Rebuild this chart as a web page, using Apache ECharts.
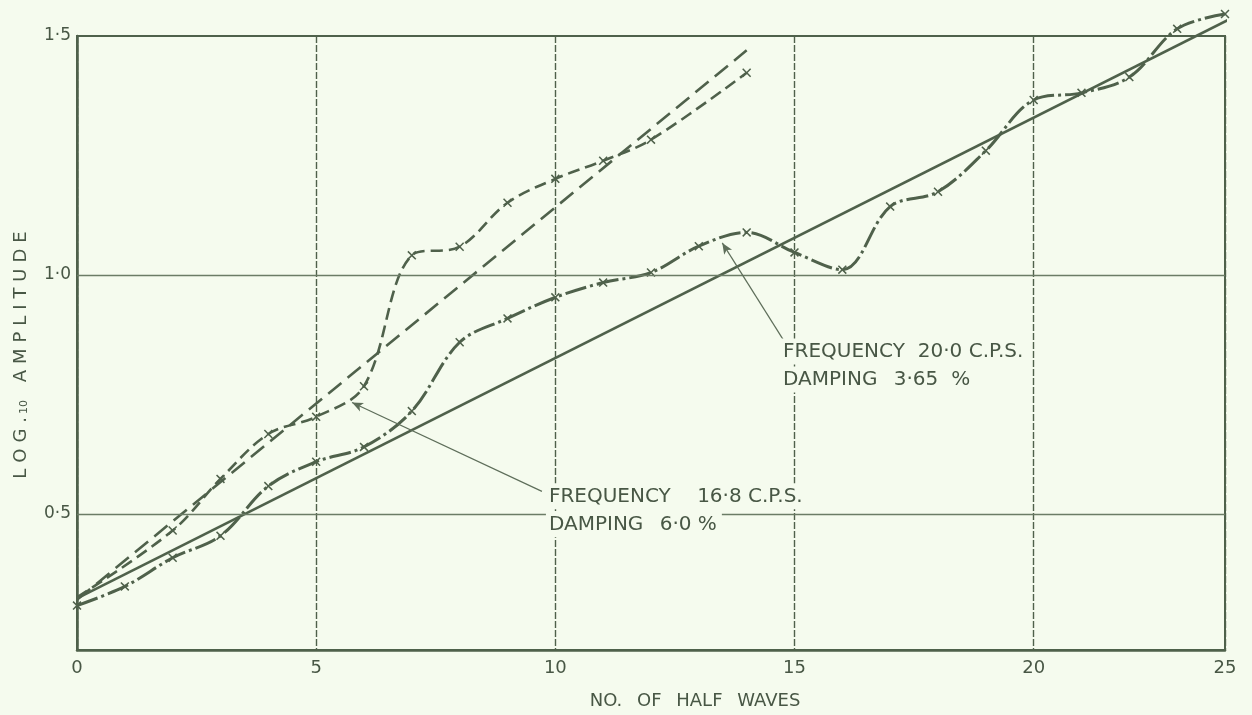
<!DOCTYPE html>
<html>
<head>
<meta charset="utf-8">
<script src="https://cdn.jsdelivr.net/npm/echarts@6/dist/echarts.min.js"></script>
<style>
html,body{margin:0;padding:0;background:#f5fbee;}
#chart{width:1252px;height:715px;}
</style>
</head>
<body>
<div id="chart"></div>
<script>
// ---- data ----
// 20.0 c.p.s. test (dash-dot curve with x markers)
const halfWaves200 = [0,1,2,3,4,5,6,7,8,9,10,11,12,13,14,15,16,17,18,19,20,21,22,23,24];
const logAmp200    = [0.308,0.348,0.408,0.454,0.558,0.609,0.640,0.715,0.859,0.909,0.953,0.984,1.005,1.060,1.089,1.047,1.011,1.143,1.174,1.260,1.366,1.381,1.414,1.515,1.546];
// 16.8 c.p.s. test (dashed curve with x markers)
const halfWaves168 = [0,2,3,4,5,6,7,8,9,10,11,12,14];
const logAmp168    = [0.325,0.465,0.573,0.667,0.703,0.767,1.041,1.059,1.151,1.201,1.239,1.283,1.423];
// straight fitted lines
const fit168X = [0,14];
const fit168Y = [0.32,1.47];
const fit200X = [0,24.35];
const fit200Y = [0.323,1.548];
// axes
const xTickLabels = ['0','5','10','15','20','25'];
const yTickValues = [0.5,1.0,1.5];
const yGridValues = [0.5,1.0];
// annotations (data-space anchors of leader lines)
const note168Lines = ['FREQUENCY\u2003 16·8 C.P.S.', 'DAMPING\u2002 6·0 %'];
const note200Lines = ['FREQUENCY\u2004 20·0 C.P.S.', 'DAMPING\u2002 3·65\u2004 %'];
const pointer168 = [[5.75,0.733],[9.72,0.547]];
const pointer200 = [[13.49,1.067],[14.76,0.865]];

const INK = '#4f614b';
const TEXT = '#485745';
const FONT = '"DejaVu Sans", "Noto Sans", sans-serif';
const XSYM = 'path://M0,1.2L1.2,0L5,3.8L8.8,0L10,1.2L6.2,5L10,8.8L8.8,10L5,6.2L1.2,10L0,8.8L3.8,5Z';

const zip = (xs, ys) => xs.map((x, i) => [x, ys[i]]);
const spaced = (s, sp) => s.split('').join(sp);

const chart = echarts.init(document.getElementById('chart'), null, {renderer: 'canvas'});

const option = {
  backgroundColor: '#f5fbee',
  animation: false,
  grid: {
    left: 77, right: 27, top: 36, bottom: 64,
    show: true, borderColor: INK, borderWidth: 2, backgroundColor: 'transparent'
  },
  xAxis: {
    type: 'value', min: 0, max: 24, interval: 5,
    name: 'NO.\u2002 OF\u2002 HALF\u2002 WAVES',
    nameLocation: 'middle', nameGap: 42,
    nameTextStyle: {color: TEXT, fontFamily: FONT, fontSize: 18, padding: [0, 0, 0, 88]},
    axisLine: {show: true, lineStyle: {color: INK, width: 2.5}},
    axisTick: {show: false},
    axisLabel: {
      color: TEXT, fontFamily: FONT, fontSize: 18, margin: 9,
      formatter: (v, i) => xTickLabels[i]
    },
    splitLine: {show: true, lineStyle: {color: INK, width: 1.4, type: [7, 2]}}
  },
  yAxis: {
    type: 'value', min: 0.215, max: 1.5,
    name: '{a|' + spaced('LOG.', '\u2004') + '}{s|10}{a|\u2002 ' + spaced('AMPLITUDE', '\u2004') + '}',
    nameLocation: 'middle', nameGap: 47,
    nameTextStyle: {
      color: TEXT, fontFamily: FONT, fontSize: 18, padding: [0, 24, 0, 0],
      rich: {
        a: {color: TEXT, fontFamily: FONT, fontSize: 18},
        s: {color: TEXT, fontFamily: FONT, fontSize: 11, verticalAlign: 'bottom', padding: [7, 3, 0, 3]}
      }
    },
    axisLine: {show: true, lineStyle: {color: INK, width: 2.5}},
    axisTick: {show: false},
    axisLabel: {
      color: TEXT, fontFamily: FONT, fontSize: 17, margin: 6,
      customValues: yTickValues,
      formatter: v => v.toFixed(1).replace('.', '·')
    },
    splitLine: {show: false}
  },
  series: [
    {
      // horizontal grid lines
      type: 'line', z: 1, silent: true,
      data: zip(fit168X, fit168Y), symbol: 'none',
      lineStyle: {opacity: 0},
      markLine: {
        silent: true, symbol: 'none', animation: false,
        label: {show: false},
        data: yGridValues.map(v => ({yAxis: v, lineStyle: {color: '#6b7c66', width: 1.3, type: 'solid'}}))
      }
    },
    {
      // annotation leader lines
      type: 'line', z: 2, silent: true,
      data: zip(fit200X, fit200Y), symbol: 'none',
      lineStyle: {opacity: 0},
      markLine: {
        silent: true, animation: false,
        label: {show: false},
        symbolSize: [7, 11],
        data: [
          [{coord: pointer168[0], symbol: 'arrow'}, {coord: pointer168[1], symbol: 'none'}],
          [{coord: pointer200[0], symbol: 'arrow'}, {coord: pointer200[1], symbol: 'none'}]
        ],
        lineStyle: {color: '#5e6e5a', width: 1.2, type: 'solid'}
      }
    },
    {
      name: 'Fit 16.8 c.p.s.', type: 'line', z: 3, clip: false,
      data: zip(fit168X, fit168Y), symbol: 'none',
      lineStyle: {color: INK, width: 2.6, type: [17, 8]}
    },
    {
      name: 'Fit 20.0 c.p.s.', type: 'line', z: 3, clip: false,
      data: zip(fit200X, fit200Y), symbol: 'none',
      lineStyle: {color: INK, width: 2.6, type: 'solid'}
    },
    {
      name: '16.8 c.p.s.', type: 'line', z: 4, clip: false,
      data: zip(halfWaves168, logAmp168).map((p, i) => i === 0 ? {value: p, symbol: 'none'} : p),
      smooth: 0.35,
      symbol: XSYM, symbolSize: 9, showSymbol: true,
      itemStyle: {color: INK},
      lineStyle: {color: INK, width: 2.6, type: [12, 6]}
    },
    {
      name: '20.0 c.p.s.', type: 'line', z: 4, clip: false,
      data: zip(halfWaves200, logAmp200),
      smooth: 0.35,
      symbol: XSYM, symbolSize: 9, showSymbol: true,
      itemStyle: {color: INK},
      lineStyle: {color: INK, width: 3, type: [22, 4, 3, 4]}
    }
  ],
  graphic: []
};

chart.setOption(option);

function noteText(lines, left, top, gap) {
  return lines.map((t, i) => ({
    type: 'text', z: 10, silent: true,
    x: left, y: top + i * gap,
    style: {
      text: t, fill: TEXT, font: '20px ' + FONT,
      textVerticalAlign: 'middle', verticalAlign: 'middle',
      backgroundColor: '#f5fbee', padding: [3, 5, 3, 3]
    }
  }));
}
const tail168 = chart.convertToPixel({gridIndex: 0}, pointer168[1]);
const tail200 = chart.convertToPixel({gridIndex: 0}, pointer200[1]);
chart.setOption({
  graphic: noteText(note168Lines, tail168[0] + 4, tail168[1] + 5, 28)
    .concat(noteText(note200Lines, tail200[0] - 3, tail200[1] + 12, 28))
});
</script>
</body>
</html>
